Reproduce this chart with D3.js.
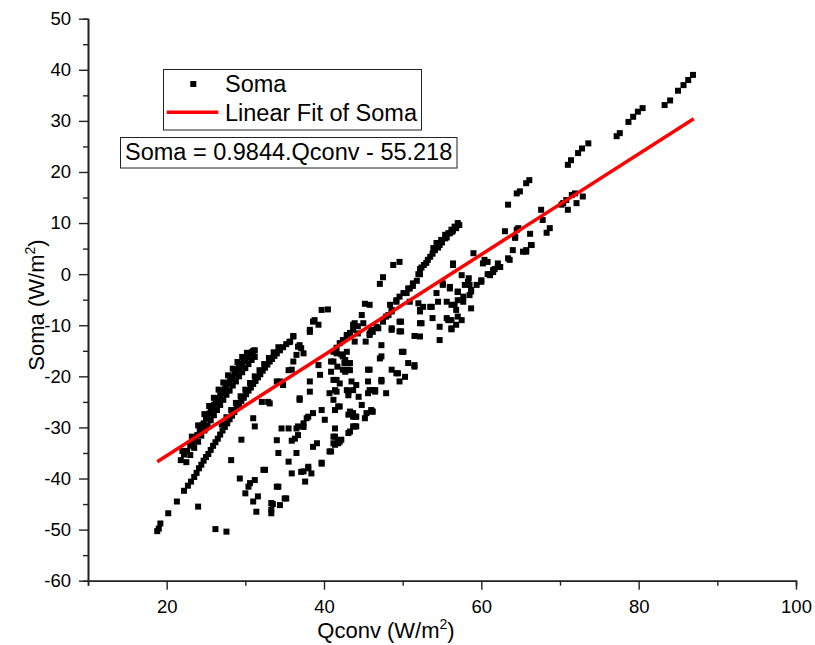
<!DOCTYPE html>
<html>
<head>
<meta charset="utf-8">
<script src="https://cdn.jsdelivr.net/npm/d3@7/dist/d3.min.js"></script>
<style>
  html, body { margin: 0; padding: 0; background: #fff; }
  svg { display: block; font-family: Arial, "Liberation Sans", sans-serif; }
</style>
</head>
<body>
<svg id="chart" width="815" height="645"></svg>
<script>
// ---------------- data (Qconv, Soma) ----------------
const bandUpper = [
  [21.8,-36.4],[22.2,-35.3],[22.6,-34.6],[23.0,-33.6],[23.3,-33.0],[23.6,-31.9],[23.9,-31.5],[24.2,-30.5],[24.5,-29.6],[24.7,-29.2],
  [25.0,-28.3],[25.2,-27.6],[25.4,-27.3],[25.6,-26.6],[25.8,-26.3],[26.0,-25.6],[26.2,-25.3],[26.4,-24.6],[26.6,-24.4],[26.8,-23.7],
  [27.0,-23.3],[27.2,-22.8],[27.4,-22.4],[27.6,-21.9],[27.8,-21.4],[28.0,-21.0],[28.2,-20.5],[28.4,-20.1],[28.6,-19.6],[28.8,-19.2],
  [29.0,-18.7],[29.2,-18.3],[29.4,-17.9],[29.6,-17.5],[29.8,-17.0],[30.0,-16.7],[30.2,-16.3],[30.4,-16.0],[30.6,-15.6],[30.8,-15.3],
  [31.0,-15.0],[31.2,-14.9],
  [22.5,-36.8],[23.0,-35.4],[23.5,-34.0],[24.0,-32.8],[24.4,-31.6],[24.8,-30.6],[25.2,-29.6],[25.6,-28.6],[26.0,-27.6],[26.4,-26.6],
  [26.8,-25.6],[27.2,-24.6],[27.6,-23.6],[28.0,-22.8],[28.4,-21.8],[28.8,-21.0],[29.2,-20.0],[29.6,-19.2],[30.0,-18.4],[30.4,-17.6],
  [30.8,-16.8],[31.2,-16.2],
  [22.0,-34.6],[23.2,-31.8],[24.0,-29.6],[24.8,-27.4],[25.4,-25.8],[26.0,-24.2],[26.6,-22.6],[27.2,-21.2],[27.8,-19.8],[28.4,-18.5],
  [29.0,-17.2],[29.6,-16.2],[30.2,-15.4]
];
const bandLower = [
  [18.8,-50.3],[19.0,-49.8],[19.2,-48.8],[20.2,-46.8],[21.3,-44.5],[22.2,-42.4],[22.7,-41.4],[23.1,-40.6],[23.5,-39.7],[23.8,-38.9],
  [24.1,-38.0],[24.4,-37.3],[24.7,-36.5],[25.0,-35.8],[25.3,-35.2],[25.6,-34.4],[25.9,-33.6],[26.2,-32.9],[26.5,-32.2],[26.8,-31.4],
  [27.1,-30.6],[27.4,-29.9],[27.7,-29.2],[28.0,-28.4],[28.3,-27.7],[28.6,-27.0],[28.9,-26.2],[29.2,-25.6],[29.5,-24.8],[29.8,-24.2],
  [30.1,-23.5],[30.4,-22.8],[30.7,-22.2],[31.0,-21.5],[31.3,-20.9],[31.6,-20.2],[31.9,-19.6],[32.2,-18.9],[32.5,-18.3],[32.8,-17.7],
  [33.1,-17.1],[33.4,-16.6],[33.7,-16.0],[34.0,-15.5],[34.4,-14.9],[34.8,-14.3],[35.2,-13.7],[35.6,-13.3],
  [27.0,-29.4],[27.6,-28.0],[28.2,-26.6],[28.8,-25.2],[29.4,-23.9],[30.0,-22.6],[30.6,-21.3],[31.2,-20.0],[31.8,-18.8],[32.4,-17.6],
  [33.0,-16.4],[33.6,-15.3],[34.2,-14.3]
];
const bandRight = [
  [41.2,-15.2],[41.6,-14.4],[42.0,-13.5],[42.4,-12.9],[42.9,-12.2],[43.3,-11.5],[43.7,-10.9],[44.3,-10.2],[45.0,-9.6],[45.8,-11.6],
  [46.7,-10.3],[47.5,-9.0],[48.2,-8.0],[48.6,-7.0],[49.2,-5.4],[50.1,-3.7],[50.9,-2.8],[51.3,-1.8],[52.0,0.0],[52.4,1.3],
  [53.5,3.4],[54.1,4.7],[54.7,5.7],[55.4,7.0],[56.0,8.0],[56.4,8.6],
  [45.8,-11.9],[46.2,-11.3],[46.9,-10.6],[47.5,-9.3],[47.9,-8.3],[48.6,-7.3],[48.4,-6.0],[49.2,-5.1],[49.6,-4.4],[50.5,-3.7],
  [50.7,-2.8],[51.3,-2.3],[51.8,-1.3],[52.2,0.0],[52.2,1.0],[53.2,2.8],[53.9,5.1],[54.3,6.1],[54.9,6.7],[55.4,7.7],
  [55.8,8.0],[56.2,8.7],[56.6,9.3],[57.0,10.0],[53.8,4.0],[54.5,5.2],[55.0,6.2],[55.6,7.2],[56.3,8.3],[56.8,9.0],
  [57.2,9.6],[53.0,2.2],[52.7,1.8]
];
const scatterLeft = [
  [24.0,-45.5],[26.2,-49.9],[27.6,-50.4],[28.2,-36.4],[29.3,-40.0],[29.5,-32.4],[31.0,-28.2],[31.2,-29.8],[32.3,-38.3],[30.6,-40.9],
  [30.0,-42.9],[31.0,-44.5],[31.4,-46.5],[31.6,-43.5],[31.2,-40.3],[30.4,-41.6],[33.3,-46.1],[33.5,-45.0],[34.2,-41.6],[34.4,-45.2],
  [35.2,-43.9],[32.9,-25.0],[32.1,-25.0],[33.1,-25.3],[34.0,-21.0],[34.8,-21.7],[36.1,-12.2],[36.9,-13.9],[37.4,-15.5],[35.9,-18.7],
  [36.5,-15.8],[36.1,-17.1],[35.5,-18.8],[34.4,-21.0],[38.2,-21.0],[38.2,-23.0],[36.9,-24.3],[39.5,-19.7],[39.7,-26.6],[38.6,-27.2],
  [37.8,-28.2],[37.4,-29.2],[36.7,-29.8],[35.5,-30.2],[34.6,-30.2],[34.0,-32.5],[34.2,-35.0],[35.5,-36.7],[36.5,-35.0],[35.9,-39.0],
  [37.4,-38.6],[38.0,-38.0],[38.4,-39.0],[37.6,-40.6],[38.6,-33.8],[39.1,-33.1],[39.7,-37.1],[36.7,-31.5],[36.3,-32.2],[35.9,-32.6],
  [38.0,-27.9],[40.1,-28.5],[39.7,-7.0],[40.5,-6.9],[38.8,-9.0],[39.3,-9.9],[38.2,-11.3],[38.2,-10.9],[38.6,-9.3],[39.3,-17.8],
  [35.7,-13.2],[36.1,-12.1],[36.7,-14.2],[37.1,-14.5],[33.3,-44.8],[33.3,-46.8],[34.0,-41.6],[35.0,-43.9],[32.5,-38.3],[38.0,-37.7],
  [37.1,-38.7],[36.9,-24.6],[37.4,-29.9],[36.5,-30.2]
];
const scatterMid = [
  [40.7,-34.7],[41.2,-31.8],[41.8,-33.1],[41.4,-30.2],[42.2,-32.4],[41.4,-26.6],[42.0,-25.9],[43.1,-27.5],[43.7,-27.9],[44.1,-29.8],
  [43.3,-30.8],[40.7,-23.3],[41.6,-23.0],[42.9,-22.7],[43.7,-22.7],[42.0,-21.4],[42.7,-19.1],[41.2,-20.7],[40.9,-19.1],[41.7,-18.1],
  [42.6,-17.4],[43.3,-18.8],[42.4,-16.1],[41.6,-15.5],[42.9,-15.2],[40.9,-17.1],[43.9,-13.2],[44.3,-11.6],[43.7,-9.9],[42.9,-11.9],
  [48.8,1.8],[49.6,2.4],[47.5,-0.6],[47.1,-1.9],[45.2,-5.8],[45.8,-6.0],[44.8,-8.0],[43.9,-9.6],
  [50.9,-5.4],[52.0,-5.7],[52.6,-6.4],[52.2,-7.3],[52.2,-9.6],[49.6,-9.3],[49.6,-11.2],[51.5,-12.1],[52.2,-12.2],[49.9,-15.2],
  [48.6,-10.9],[47.3,-13.9],[47.1,-16.5],[47.3,-21.0],[48.6,-18.7],[49.4,-19.4],[50.3,-20.1],[49.6,-21.0],[50.7,-17.4],[51.5,-17.8],
  [45.8,-18.7],[45.6,-21.0],[45.8,-22.7],[46.5,-23.0],[47.9,-23.3],[44.8,-25.6],[43.5,-21.0],[44.1,-21.7],[43.1,-23.0],[44.4,-24.0],
  [46.1,-26.9],[45.2,-28.2],[43.3,-26.9],[44.0,-27.9],[43.7,-29.8],[43.1,-31.1],[41.8,-25.9],[41.4,-31.8],[41.8,-32.5],[41.2,-33.1],
  [40.9,-34.7],[41.2,-24.6],[41.6,-20.7],[41.4,-22.7],[42.4,-18.7],[43.1,-18.7],[41.2,-17.1],[42.7,-16.8],[43.3,-17.4],[42.2,-15.7],
  [47.3,-16.1],[50.1,-15.2],[51.5,-18.1],[49.2,-19.4],[47.3,-20.7],[46.5,-22.7],[46.2,-26.9],[49.8,-9.3],[49.8,-11.2],[48.6,-10.6],
  [52.4,-9.6],[54.5,-5.4],[52.2,-7.0],[53.7,-6.4],[45.3,-13.2],[46.0,-10.9],[45.6,-18.7],[46.2,-22.7],[45.6,-23.3],[43.1,-23.7],
  [43.7,-27.2],[44.1,-27.9],[45.4,-27.2],[46.0,-26.6],[43.9,-29.8],[42.0,-32.8],[41.4,-33.4],[39.7,-36.9]
];
const scatterRight = [
  [59.0,4.1],[56.4,1.8],[57.5,-0.2],[58.3,-1.5],[57.9,-2.1],[59.4,-2.1],[60.0,-1.5],[60.2,2.1],[60.8,2.4],[61.5,0.4],
  [62.4,1.4],[60.8,0.0],[63.6,2.8],[64.0,4.7],[64.3,7.3],[66.2,7.9],[66.3,5.7],[65.7,4.4],[55.1,-2.1],[56.0,-2.8],
  [57.0,-3.4],[54.3,-3.7],[57.7,-4.4],[58.7,-3.4],[53.5,-6.4],[55.6,-5.4],[56.2,-6.0],[56.8,-7.0],[57.7,-5.4],[58.7,-6.7],
  [55.6,-8.6],[56.2,-9.0],[57.0,-8.3],[57.5,-9.0],[53.8,-8.6],[54.7,-10.3],[56.2,-10.8],[54.7,-12.9],[56.2,-10.6],[56.8,-9.9],
  [55.8,-9.0],[56.6,-6.0],[57.0,-5.1],[58.5,-4.1],[58.7,-3.1],[58.5,-2.1],[60.0,-1.2],[58.4,-0.8],[56.4,2.1],[55.1,-1.8],
  [56.0,-2.5],[57.0,-3.5],[60.4,2.8],[61.1,0.0],[61.7,1.0],[62.1,2.1],
  [63.4,13.6],[64.5,15.8],[64.9,16.2],[65.7,17.8],[66.1,18.4],[63.0,8.4],[64.5,8.7],[64.3,7.1],[66.4,5.7],[65.7,4.7],
  [65.3,4.4],[63.4,3.1],[62.1,1.4],[61.5,0.8],[61.1,-0.2],[67.6,12.6],[67.8,10.6],[68.7,9.0],[68.3,8.1],[70.2,13.6],
  [70.4,13.9],[70.8,14.5],[71.5,15.5],[71.9,15.8],[71.0,12.6],[72.1,13.9],[72.9,15.2],[64.7,9.0]
];
const scatterTop = [
  [71.0,21.4],[71.4,22.3],[72.3,23.7],[72.8,24.6],[73.6,25.6],[77.2,27.0],[77.6,27.6],[78.7,29.8],[79.3,30.8],[79.9,31.8],
  [80.5,32.5],[83.3,33.1],[84.0,34.0],[85.0,35.9],[85.7,37.0],[86.3,38.0],[86.9,39.0]
];

const fitSlope = 0.9844;
const fitIntercept = -55.218;
const fitRange = [18.8, 87.0];

const xMajorTicks = [20, 40, 60, 80, 100];
const xMinorTicks = [10, 30, 50, 70, 90];
const yMajorTicks = [-60, -50, -40, -30, -20, -10, 0, 10, 20, 30, 40, 50];
const yMinorTicks = [-55, -45, -35, -25, -15, -5, 5, 15, 25, 35, 45];

const seriesLabel = "Soma";
const fitLabel = "Linear Fit of Soma";
const equationLabel = "Soma = 0.9844.Qconv - 55.218";

// ---------------- drawing ----------------
const svg = d3.select("#chart");
const x = d3.scaleLinear().domain([10, 100]).range([88, 796]);
const y = d3.scaleLinear().domain([-60, 50]).range([580.7, 18.7]);

const axisColor = "#222";
const plainFmt = d => String(d);

// minor ticks
const xMinor = svg.append("g").attr("transform", `translate(0,${y(-60)})`)
  .call(d3.axisBottom(x).tickValues(xMinorTicks).tickSize(5).tickFormat(""));
const yMinor = svg.append("g").attr("transform", `translate(${x(10)},0)`)
  .call(d3.axisLeft(y).tickValues(yMinorTicks).tickSize(5).tickFormat(""));

const xAxis = svg.append("g").attr("transform", `translate(0,${y(-60)})`)
  .call(d3.axisBottom(x).tickValues(xMajorTicks).tickFormat(plainFmt).tickSize(9).tickPadding(10).tickSizeOuter(0));
const yAxis = svg.append("g").attr("transform", `translate(${x(10)},0)`)
  .call(d3.axisLeft(y).tickValues(yMajorTicks).tickFormat(plainFmt).tickSize(9).tickPadding(8).tickSizeOuter(0));

[xMinor, yMinor, xAxis, yAxis].forEach(g => {
  g.select(".domain").attr("stroke", axisColor).attr("stroke-width", 1.6);
  g.selectAll(".tick line").attr("stroke", axisColor).attr("stroke-width", 1.4);
  g.selectAll(".tick text").attr("fill", "#000").style("font-size", "18.5px")
    .style("font-family", "Arial, 'Liberation Sans', sans-serif");
});

// points
const allPoints = [].concat(bandUpper, bandLower, bandRight, scatterLeft, scatterMid, scatterRight, scatterTop);
const ms = 6;
svg.append("g").selectAll("rect").data(allPoints).join("rect")
  .attr("x", d => x(d[0]) - ms / 2)
  .attr("y", d => y(d[1]) - ms / 2)
  .attr("width", ms).attr("height", ms)
  .attr("fill", "#000");

// fit line
const fitData = fitRange.map(v => [v, fitSlope * v + fitIntercept]);
svg.append("path").datum(fitData)
  .attr("d", d3.line().x(d => x(d[0])).y(d => y(d[1])))
  .attr("stroke", "#ff0000").attr("stroke-width", 3.5).attr("fill", "none");

// axis titles
const xt = svg.append("text").attr("x", 386).attr("y", 638).attr("text-anchor", "middle")
  .style("font-size", "22px").attr("fill", "#000");
xt.append("tspan").text("Qconv (W/m");
xt.append("tspan").text("2").style("font-size", "14px").attr("dy", -9);
xt.append("tspan").text(")").attr("dy", 9);

const yt = svg.append("text").attr("transform", "translate(44,305) rotate(-90)").attr("text-anchor", "middle")
  .style("font-size", "22px").attr("fill", "#000");
yt.append("tspan").text("Soma (W/m");
yt.append("tspan").text("2").style("font-size", "14px").attr("dy", -9);
yt.append("tspan").text(")").attr("dy", 9);

// legend
const lg = svg.append("g");
lg.append("rect").attr("x", 163.5).attr("y", 69.5).attr("width", 258).attr("height", 60.5)
  .attr("fill", "#fff").attr("stroke", "#222").attr("stroke-width", 1);
lg.append("rect").attr("x", 193.3 - 3).attr("y", 84 - 3).attr("width", 6).attr("height", 6).attr("fill", "#000");
lg.append("text").attr("x", 225).attr("y", 92).text(seriesLabel).style("font-size", "23.5px").attr("fill", "#000");
lg.append("line").attr("x1", 166.7).attr("x2", 218.3).attr("y1", 112.3).attr("y2", 112.3)
  .attr("stroke", "#ff0000").attr("stroke-width", 3.5);
lg.append("text").attr("x", 225).attr("y", 120.5).text(fitLabel).style("font-size", "23.5px").attr("fill", "#000");

// equation box
const eq = svg.append("g");
eq.append("rect").attr("x", 120.5).attr("y", 137.5).attr("width", 336.5).attr("height", 30.5)
  .attr("fill", "#fff").attr("stroke", "#222").attr("stroke-width", 1);
eq.append("text").attr("x", 125).attr("y", 160).text(equationLabel).style("font-size", "23.5px").attr("fill", "#000");
</script>
</body>
</html>
